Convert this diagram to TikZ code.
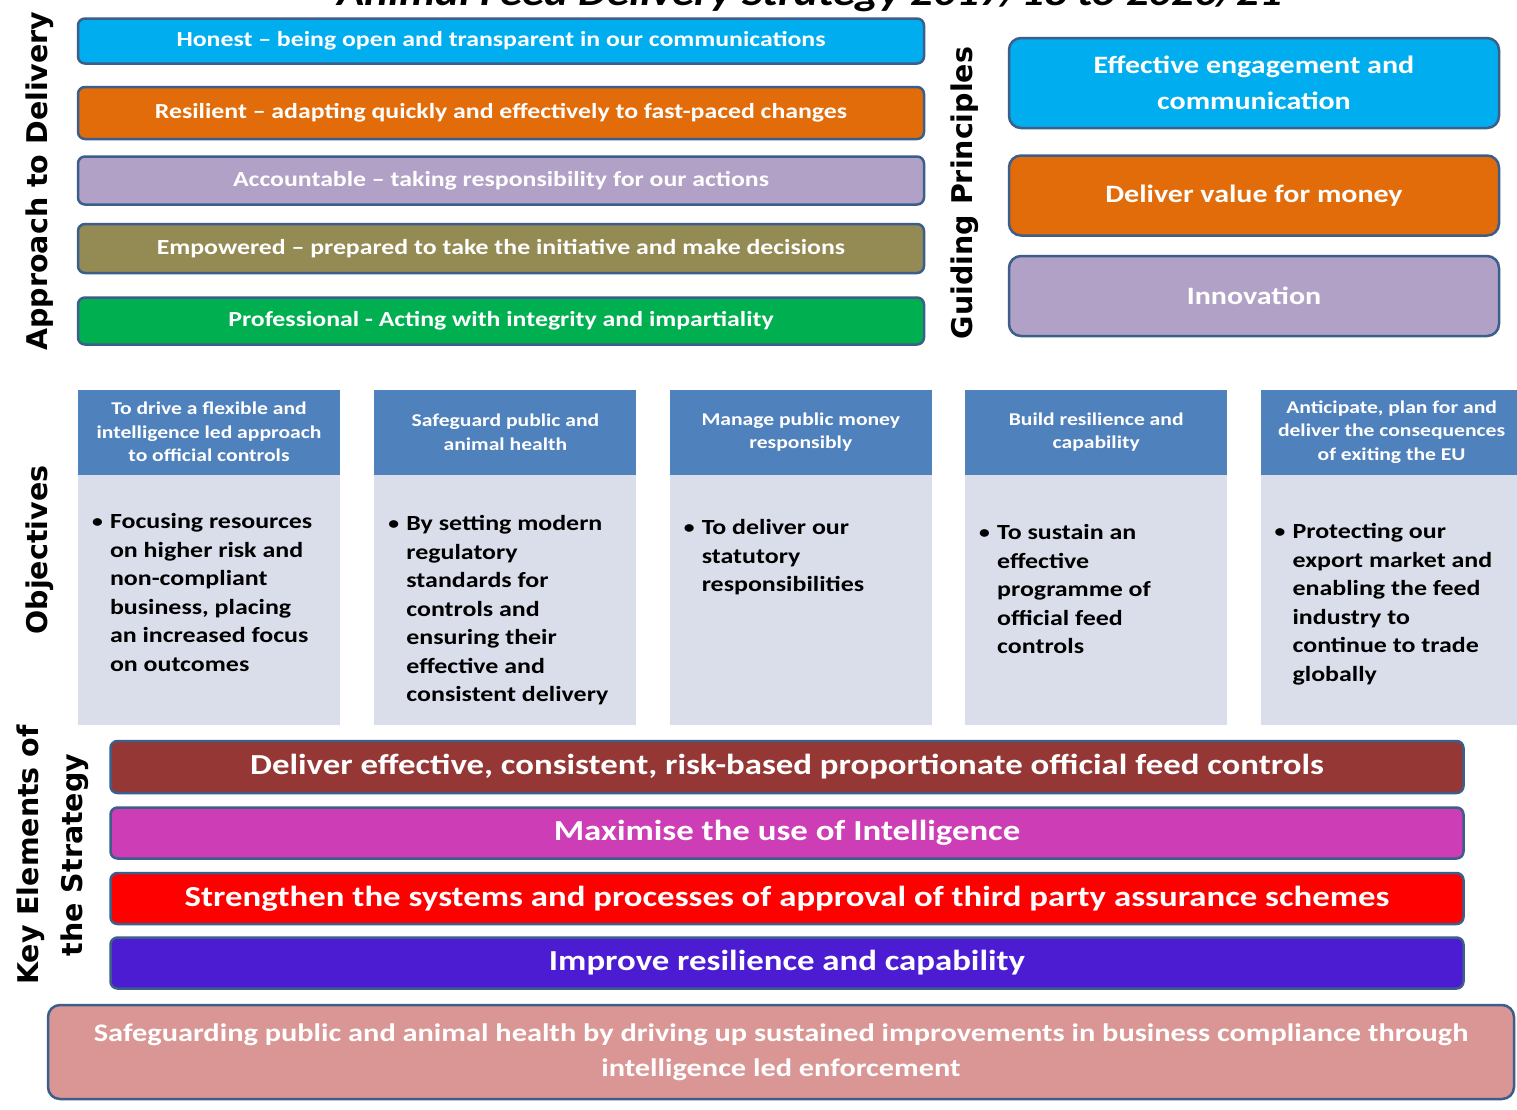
\documentclass[tikz,border=0pt]{standalone}
\usepackage{fontspec}
\setmainfont{Carlito}[FakeStretch=1.2]
\newfontfamily\sidefont{DejaVu Sans}
\usetikzlibrary{positioning}

\definecolor{rim}{HTML}{3B5E8A}
\definecolor{sky}{HTML}{00AEEF}
\definecolor{tangerine}{HTML}{E36C0A}
\definecolor{lilac}{HTML}{B2A1C7}
\definecolor{khaki}{HTML}{948A54}
\definecolor{leaf}{HTML}{00B050}
\definecolor{objhead}{HTML}{4F81BD}
\definecolor{objbody}{HTML}{D9DEEA}
\definecolor{brick}{HTML}{953735}
\definecolor{orchid}{HTML}{CC3DB6}
\definecolor{scarlet}{HTML}{FF0000}
\definecolor{indigo}{HTML}{4B1CD1}
\definecolor{rosy}{HTML}{D99694}

\newcommand{\bulletpar}[1]{\makebox[18pt][l]{\raisebox{1pt}{\fontsize{18}{18}\selectfont\textbullet}}%
  \begin{tabular}[t]{@{}l@{}}#1\end{tabular}}

\tikzset{
  valuebar/.style={draw=rim, line width=2.5pt, rounded corners=7pt, minimum width=846pt,
    minimum height=48pt, inner sep=0pt, text=white, font=\fontsize{21.5}{24}\selectfont\bfseries},
  principlebox/.style={draw=rim, line width=2.5pt, rounded corners=12pt, minimum width=490pt,
    inner sep=0pt, text=white, align=center, font=\fontsize{25}{36}\selectfont\bfseries},
  objhead/.style={fill=objhead, minimum width=262pt, minimum height=85pt, inner sep=0pt,
    text=white, align=center, font=\fontsize{18}{23.5}\selectfont\bfseries},
  objbody/.style={fill=objbody, minimum width=262pt, minimum height=250pt, inner sep=0pt},
  objtext/.style={anchor=north west, inner sep=0pt, font=\fontsize{21.6}{28.5}\selectfont\bfseries},
  elementbar/.style={draw=rim, line width=2.5pt, rounded corners=7pt, minimum width=1353pt,
    minimum height=51pt, inner sep=0pt, text=white, font=\fontsize{29}{36}\selectfont\bfseries},
  sidelabel/.style={rotate=90, align=center, font=\sidefont\fontsize{28.5}{44}\selectfont\bfseries}
}

\begin{document}
\begin{tikzpicture}[x=1pt,y=-1pt]
  \clip (0,0) rectangle (1517,1109);
  \fill[white] (0,0) rectangle (1517,1109);

  % heading, mostly above the page
  \node[anchor=base, inner sep=0pt, font=\fontsize{37.5}{44}\selectfont\bfseries\itshape]
    (title) at (810,5) {Animal Feed Delivery Strategy 2017/18 to 2020/21};

  % approach to delivery
  \node[sidelabel] (approach) at (40,181) {Approach to Delivery};
  \node[valuebar, fill=sky, minimum height=45pt] (honest) at (501,41)
    {Honest -- being open and transparent in our communications};
  \node[valuebar, fill=tangerine, minimum height=52pt, below=21pt of honest] (resilient)
    {Resilient -- adapting quickly and effectively to fast-paced changes};
  \node[valuebar, fill=lilac, below=15pt of resilient] (accountable)
    {Accountable -- taking responsibility for our actions};
  \node[valuebar, fill=khaki, minimum height=49pt, below=17pt of accountable] (empowered)
    {Empowered -- prepared to take the initiative and make decisions};
  \node[valuebar, fill=leaf, minimum height=47pt, below=22pt of empowered] (professional)
    {Professional - Acting with integrity and impartiality};

  % guiding principles
  \node[sidelabel] (guiding) at (965,193) {Guiding Principles};
  \node[principlebox, fill=sky, minimum height=90pt] (engage) at (1254,83)
    {Effective engagement and\\communication};
  \node[principlebox, fill=tangerine, minimum height=80pt, below=25pt of engage] (value)
    {Deliver value for money};
  \node[principlebox, fill=lilac, minimum height=80pt, below=18pt of value] (innovation)
    {Innovation};

  % objectives
  \node[sidelabel] (objectives) at (40,550) {Objectives};
  \node[objhead] (head1) at (209,432)
    {To drive a flexible and\\intelligence led approach\\to official controls};
  \node[objhead, right=34pt of head1] (head2) {Safeguard public and\\animal health};
  \node[objhead, right=33pt of head2] (head3) {Manage public money\\responsibly};
  \node[objhead, right=33pt of head3] (head4) {Build resilience and\\capability};
  \node[objhead, right=33pt of head4] (head5)
    {Anticipate, plan for and\\deliver the consequences\\of exiting the EU};

  \node[objbody, below=0pt of head1] (body1) {};
  \node[objbody, below=0pt of head2] (body2) {};
  \node[objbody, below=0pt of head3] (body3) {};
  \node[objbody, below=0pt of head4] (body4) {};
  \node[objbody, below=0pt of head5] (body5) {};

  \node[objtext] (point1) at ([shift={(14pt,-34pt)}]body1.north west)
    {\bulletpar{Focusing resources\\on higher risk and\\non-compliant\\business, placing\\an increased focus\\on outcomes}};
  \node[objtext] (point2) at ([shift={(14pt,-36pt)}]body2.north west)
    {\bulletpar{By setting modern\\regulatory\\standards for\\controls and\\ensuring their\\effective and\\consistent delivery}};
  \node[objtext] (point3) at ([shift={(14pt,-40pt)}]body3.north west)
    {\bulletpar{To deliver our\\statutory\\responsibilities}};
  \node[objtext] (point4) at ([shift={(14pt,-45pt)}]body4.north west)
    {\bulletpar{To sustain an\\effective\\programme of\\official feed\\controls}};
  \node[objtext] (point5) at ([shift={(14pt,-44pt)}]body5.north west)
    {\bulletpar{Protecting our\\export market and\\enabling the feed\\industry to\\continue to trade\\globally}};

  % key elements
  \node[sidelabel] (elements) at (53,855) {Key Elements of\\the Strategy};
  \node[elementbar, fill=brick, minimum height=52pt] (controls) at (787,767)
    {Deliver effective, consistent, risk-based proportionate official feed controls};
  \node[elementbar, fill=orchid, below=12pt of controls] (intel)
    {Maximise the use of Intelligence};
  \node[elementbar, fill=scarlet, below=12pt of intel] (schemes)
    {Strengthen the systems and processes of approval of third party assurance schemes};
  \node[elementbar, fill=indigo, below=11pt of schemes] (resilience)
    {Improve resilience and capability};

  % overall aim
  \node[draw=rim, line width=2.5pt, rounded corners=12pt, fill=rosy, minimum width=1466pt,
    minimum height=94pt, inner sep=0pt, text=white, align=center,
    font=\fontsize{25.3}{35}\selectfont\bfseries] (aim) at (781,1052)
    {Safeguarding public and animal health by driving up sustained improvements in business compliance through\\intelligence led enforcement};
\end{tikzpicture}
\end{document}
